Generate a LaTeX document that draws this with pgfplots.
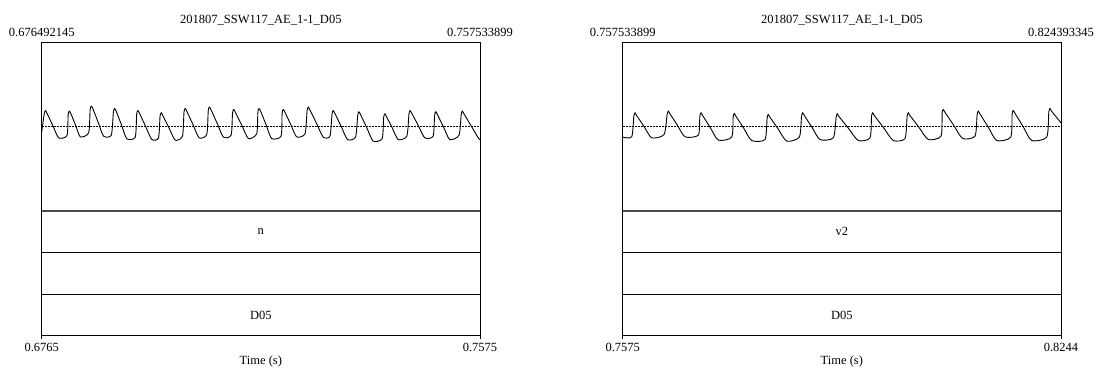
\documentclass[border=0pt]{standalone}
\usepackage{fontspec}
\setmainfont{Liberation Serif}
\usepackage{pgfplots}
\pgfplotsset{compat=1.18}
\pgfplotsset{
  wave/.style={scale only axis, anchor=south west, width=438.3pt, height=168.7pt,
    ymin=-0.8435, ymax=0.8435, xtick=\empty, ytick=\empty,
    axis line style={line width=0.8pt}, clip mode=individual},
  tier/.style={scale only axis, anchor=south west, width=438.3pt, height=124.7pt,
    ymin=0, ymax=3, ytick={1,2}, yticklabels={}, ytick style={draw=none},
    ymajorgrids, major grid style={black, line width=0.8pt},
    xtick pos=bottom, tick align=outside, major tick length=3pt,
    xtick style={black, line width=0.8pt}, xticklabels={},
    axis line style={line width=0.8pt}, clip mode=individual},
}
\begin{document}
\fontsize{12.5}{15}\selectfont
\begin{tikzpicture}[x=1pt,y=1pt]
\useasboundingbox (0,0) rectangle (1098,372);
% ---------- left waveform ----------
\begin{axis}[wave, at={(41.7pt,161pt)}, xmin=0.676492145, xmax=0.757533899]
\addplot[black, densely dotted, line width=0.5pt] coordinates {(0.676492145,0) (0.757533899,0)};
\addplot[black, line width=0.9pt, smooth, tension=0.4] coordinates {
(0.676492,-0.052)
(0.676955,0.126) (0.677175,0.161) (0.677455,0.136) (0.678543,0.012) (0.679630,-0.112) (0.681163,-0.089)
(0.681386,0.120) (0.681606,0.155) (0.681886,0.130) (0.682761,0.014) (0.683636,-0.102) (0.685169,-0.062)
(0.685447,0.170) (0.685667,0.205) (0.685947,0.180) (0.686943,0.0425) (0.687938,-0.095) (0.689359,-0.085)
(0.689749,0.146) (0.689969,0.181) (0.690249,0.156) (0.691244,0.017) (0.692239,-0.122) (0.693790,-0.105)
(0.694050,0.126) (0.694270,0.161) (0.694550,0.136) (0.695702,0.0035) (0.696854,-0.129) (0.698091,-0.112)
(0.698370,0.103) (0.698590,0.138) (0.698870,0.113) (0.700022,-0.011) (0.701174,-0.135) (0.702522,-0.095)
(0.702800,0.146) (0.703020,0.181) (0.703300,0.156) (0.704453,0.022) (0.705605,-0.112) (0.707008,-0.079)
(0.707286,0.160) (0.707506,0.195) (0.707786,0.170) (0.708939,0.0325) (0.710091,-0.105) (0.711513,-0.085)
(0.711773,0.136) (0.711993,0.171) (0.712273,0.146) (0.713490,0.0135) (0.714706,-0.119) (0.716239,-0.072)
(0.716462,0.146) (0.716682,0.181) (0.716962,0.156) (0.717985,0.0185) (0.719008,-0.119) (0.720743,-0.095)
(0.720948,0.136) (0.721168,0.171) (0.721448,0.146) (0.722536,0.022) (0.723623,-0.102) (0.725174,-0.072)
(0.725563,0.160) (0.725783,0.195) (0.726063,0.170) (0.727308,0.0325) (0.728552,-0.105) (0.729789,-0.095)
(0.730178,0.126) (0.730398,0.161) (0.730678,0.136) (0.731858,0.0035) (0.733038,-0.129) (0.734515,-0.105)
(0.734923,0.113) (0.735143,0.148) (0.735423,0.123) (0.736603,-0.011) (0.737782,-0.145) (0.739444,-0.119)
(0.739722,0.093) (0.739942,0.128) (0.740222,0.103) (0.741310,-0.013) (0.742398,-0.129) (0.744004,-0.095)
(0.744393,0.126) (0.744613,0.161) (0.744893,0.136) (0.746110,0.012) (0.747327,-0.112) (0.748859,-0.095)
(0.749138,0.113) (0.749358,0.148) (0.749638,0.123) (0.750790,-0.003) (0.751942,-0.129) (0.753659,-0.085)
(0.754048,0.120) (0.754268,0.155) (0.754548,0.130) (0.755922,0.0055) (0.757296,-0.119) (0.757534,-0.127)
};
\node[anchor=base, yshift=5.3pt] at (rel axis cs:0,1) {0.676492145};
\node[anchor=base, yshift=5.3pt] at (rel axis cs:1,1) {0.757533899};
\node[anchor=base, yshift=19pt] at (rel axis cs:0.5,1) {201807\_SSW117\_AE\_1-1\_D05};
\end{axis}
% ---------- left tiers ----------
\begin{axis}[tier, at={(41.7pt,36.3pt)}, xmin=0.676492145, xmax=0.757533899,
  xtick={0.676492145,0.757533899}]
\node at (axis cs:0.717013,2.5) {n};
\node at (axis cs:0.717013,0.5) {D05};
\node[anchor=base, yshift=-16pt] at (rel axis cs:0,0) {0.6765};
\node[anchor=base, yshift=-16pt] at (rel axis cs:1,0) {0.7575};
\node[anchor=base, yshift=-29.3pt] at (rel axis cs:0.5,0) {Time (s)};
\end{axis}
\draw[gray!60!black, line width=1.2pt] (41.7,161) -- (480,161);
% ---------- right waveform ----------
\begin{axis}[wave, at={(622.7pt,161pt)}, xmin=0.757533899, xmax=0.824393345]
\addplot[black, densely dotted, line width=0.5pt] coordinates {(0.757533899,0) (0.824393345,0)};
\addplot[black, line width=0.9pt, smooth, tension=0.4] coordinates {
(0.757534,-0.105) (0.758907,-0.102)
(0.759230,0.103) (0.759410,0.138) (0.759640,0.113) (0.760799,0.0005) (0.761958,-0.112) (0.763834,-0.079)
(0.764310,0.120) (0.764490,0.155) (0.764720,0.130) (0.765879,0.014) (0.767037,-0.102) (0.769066,-0.085)
(0.769298,0.103) (0.769478,0.138) (0.769708,0.113) (0.770913,-0.011) (0.772117,-0.135) (0.774161,-0.105)
(0.774377,0.096) (0.774557,0.131) (0.774787,0.106) (0.776000,-0.0165) (0.777212,-0.139) (0.779240,-0.129)
(0.779564,0.086) (0.779744,0.121) (0.779974,0.096) (0.781263,-0.0245) (0.782551,-0.145) (0.784473,-0.105)
(0.784811,0.103) (0.784991,0.138) (0.785221,0.113) (0.786426,-0.008) (0.787630,-0.129) (0.789659,-0.112)
(0.790089,0.093) (0.790269,0.128) (0.790499,0.103) (0.791986,-0.018) (0.793472,-0.139) (0.795257,-0.112)
(0.795489,0.103) (0.795669,0.138) (0.795899,0.113) (0.797355,-0.013) (0.798811,-0.139) (0.800596,-0.119)
(0.800919,0.103) (0.801099,0.138) (0.801329,0.113) (0.802740,-0.008) (0.804150,-0.129) (0.806087,-0.095)
(0.806258,0.136) (0.806438,0.171) (0.806668,0.146) (0.808033,0.0135) (0.809398,-0.119) (0.811274,-0.095)
(0.811597,0.120) (0.811777,0.155) (0.812007,0.130) (0.813296,-0.0045) (0.814584,-0.139) (0.816720,-0.105)
(0.816936,0.126) (0.817116,0.161) (0.817346,0.136) (0.818635,-0.0015) (0.819923,-0.139) (0.822211,-0.105)
(0.822534,0.146) (0.822714,0.181) (0.822944,0.156) (0.824393,0.038)
};
\node[anchor=base, yshift=5.3pt] at (rel axis cs:0,1) {0.757533899};
\node[anchor=base, yshift=5.3pt] at (rel axis cs:1,1) {0.824393345};
\node[anchor=base, yshift=19pt] at (rel axis cs:0.5,1) {201807\_SSW117\_AE\_1-1\_D05};
\end{axis}
% ---------- right tiers ----------
\begin{axis}[tier, at={(622.7pt,36.3pt)}, xmin=0.757533899, xmax=0.824393345,
  xtick={0.757533899,0.824393345}]
\node at (axis cs:0.790964,2.5) {v2};
\node at (axis cs:0.790964,0.5) {D05};
\node[anchor=base, yshift=-16pt] at (rel axis cs:0,0) {0.7575};
\node[anchor=base, yshift=-16pt] at (rel axis cs:1,0) {0.8244};
\node[anchor=base, yshift=-29.3pt] at (rel axis cs:0.5,0) {Time (s)};
\end{axis}
\draw[gray!60!black, line width=1.2pt] (622.7,161) -- (1061,161);
\end{tikzpicture}
\end{document}
